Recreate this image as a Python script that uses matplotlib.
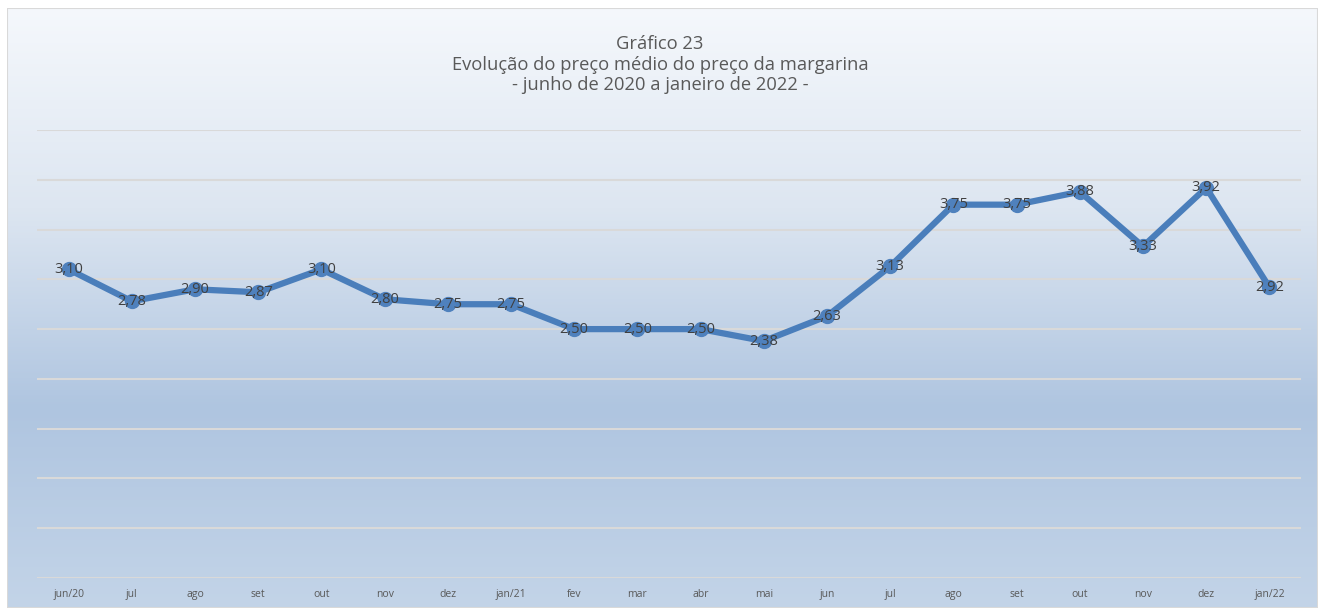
import matplotlib
matplotlib.use("Agg")
import matplotlib.pyplot as plt
import numpy as np
from matplotlib.colors import LinearSegmentedColormap
from matplotlib.patches import Rectangle

months = ["jun/20", "jul", "ago", "set", "out", "nov", "dez", "jan/21", "fev", "mar",
          "abr", "mai", "jun", "jul", "ago", "set", "out", "nov", "dez", "jan/22"]
prices = [3.10, 2.78, 2.90, 2.87, 3.10, 2.80, 2.75, 2.75, 2.50, 2.50,
          2.50, 2.38, 2.63, 3.13, 3.75, 3.75, 3.88, 3.33, 3.92, 2.92]
title_lines = ["Gráfico 23",
               "Evolução do preço médio do preço da margarina",
               "- junho de 2020 a janeiro de 2022 -"]

W, H = 1318, 608
fig = plt.figure(figsize=(W / 100, H / 100), dpi=100)
fig.patch.set_facecolor("white")
plt.rcParams['font.family'] = ['Open Sans', 'DejaVu Sans']

# background gradient
bg = fig.add_axes([7 / W, 0, (W - 7) / W, (H - 8) / H])
cmap = LinearSegmentedColormap.from_list("g", ["#f5f8fc", "#dde6f1", "#afc5e0", "#c3d4e8"])
grad = np.linspace(0, 1, 256).reshape(-1, 1)
bg.imshow(grad, aspect="auto", cmap=cmap, extent=[0, 1, 0, 1], origin="upper")
bg.add_patch(Rectangle((0, 0), 1, 1, transform=bg.transAxes, fill=False,
                       edgecolor="#d9d9d9", linewidth=1.5))
bg.set_xlim(0, 1); bg.set_ylim(0, 1)
bg.axis("off")

ax = fig.add_axes([37 / W, (H - 578) / H, (1301 - 37) / W, (578 - 130) / H])
ax.set_facecolor("none")
x = np.arange(len(months))
ax.set_xlim(-0.5, len(months) - 0.5)
ax.set_ylim(0, 4.5)
ax.set_yticks(np.arange(0, 4.51, 0.5))
ax.yaxis.grid(True, color="#d9d9d9", linewidth=1.5)
ax.set_axisbelow(True)
ax.tick_params(axis="y", left=False, labelleft=False)
ax.tick_params(axis="x", length=0, labelsize=7.5, labelcolor="#595959", pad=8)
ax.set_xticks(x)
ax.set_xticklabels(months)
for s in ax.spines.values():
    s.set_visible(False)

ax.plot(x, prices, color="#4a7ebb", linewidth=4.5, marker="o", markersize=10,
        markerfacecolor="#4f81bd", markeredgecolor="#4f81bd", solid_joinstyle="round", zorder=3)
for xi, v in zip(x, prices):
    ax.text(xi, v, f"{v:.2f}".replace(".", ","), ha="center", va="center",
            fontsize=10.5, color="#404040", zorder=4)

for t, yy in zip(title_lines, [44, 65, 85]):
    fig.text(660 / W, 1 - yy / H, t, ha="center", va="center", fontsize=13.2, color="#595959")

fig.savefig("out.png", dpi=100)
